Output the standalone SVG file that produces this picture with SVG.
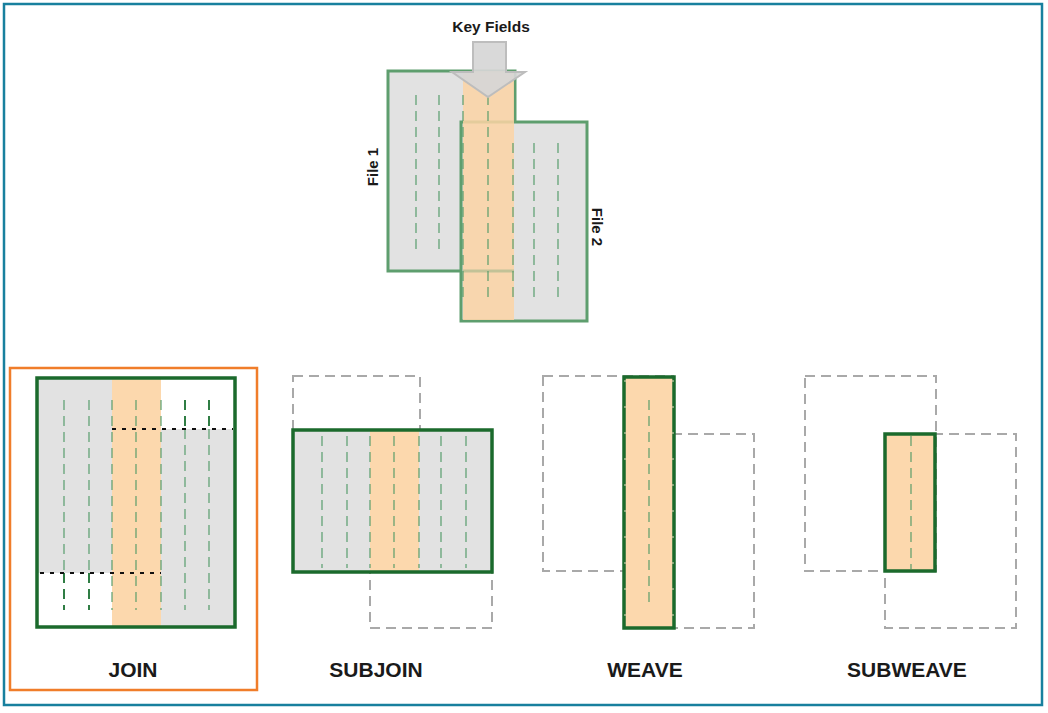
<svg xmlns="http://www.w3.org/2000/svg" width="1048" height="713" viewBox="0 0 1048 713">
<style>
.lbl{font-family:"Liberation Sans",Arial,sans-serif;font-weight:bold;fill:#1a1a1a}
.big{font-size:21px;text-anchor:middle}
.sm{font-size:15.5px;text-anchor:middle}
.f1{fill:#e2e2e2;stroke:#5e9e6e;stroke-width:3}
.res{stroke:#1b6a2c;stroke-width:3.5;fill:none}
.gray{fill:#e2e2e2}
.org{fill:#fcd8ad}
.ghost{fill:none;stroke:#a9a9a9;stroke-width:2;stroke-dasharray:10,6}
.col{stroke:#4f9a66;stroke-opacity:0.7;stroke-width:1.6;stroke-dasharray:10,6;fill:none}
.colk{stroke:#2f7d44;stroke-width:2;stroke-dasharray:10,6;fill:none}
.dot{stroke:#111;stroke-width:1.8;stroke-dasharray:4,6;fill:none}
</style>
<rect x="4" y="4" width="1038" height="701" fill="#fff" stroke="#18809e" stroke-width="2.5"/>

<g id="files">
  <rect class="f1" x="388" y="71" width="127" height="200"/>
  <rect class="f1" x="461" y="122" width="126" height="199"/>
  <rect x="463" y="71" width="51" height="249" fill="#fcd3a4" fill-opacity="0.85"/>
  <path d="M463 271H514" stroke="#5e9e6e" stroke-opacity="0.35" stroke-width="3"/>
  <path class="col" d="M416 95V250M439 95V250M463 95V303M488 95V303M513 143V303M534 143V303M558 143V303"/>
  <text class="lbl" font-size="15" text-anchor="middle" transform="translate(378,167) rotate(-90)">File 1</text>
  <text class="lbl" font-size="15" text-anchor="middle" transform="translate(592,227) rotate(90)">File 2</text>
</g>

<g id="keyfields">
  <polygon points="473,42 506,42 506,72 525,72 488,97 452,72 473,72" fill="#d6d6d6" fill-opacity="0.92" stroke="#bdbdbd" stroke-width="2"/>
  <text class="lbl sm" x="491" y="32">Key Fields</text>
</g>

<g id="join">
  <rect x="10" y="368" width="247" height="322" fill="none" stroke="#f07d2a" stroke-width="2.5"/>
  <rect class="gray" x="37" y="378" width="75" height="195"/>
  <rect class="org" x="112" y="378" width="49" height="249"/>
  <rect class="gray" x="161" y="429" width="74" height="198"/>
  <path class="col" d="M64 400V573M89 400V573M112 400V610M136 400V610M161 400V610M185 429V610M209 429V610"/>
  <path class="colk" d="M64 573V610M89 573V610M185 400V429M209 400V429"/>
  <path class="dot" d="M40 573H161M112 429H233"/>
  <rect class="res" x="37" y="378" width="198" height="249" stroke-width="4"/>
  <text class="lbl big" x="133" y="677">JOIN</text>
</g>

<g id="subjoin">
  <rect class="ghost" x="293" y="376" width="127" height="196"/>
  <rect class="ghost" x="370" y="430" width="122" height="198"/>
  <rect class="gray" x="293" y="430" width="199" height="142"/>
  <rect class="org" x="370" y="430" width="49" height="142"/>
  <path class="col" d="M322 436V568M347 436V568M370 436V568M394 436V568M419 436V568M441 436V568M466 436V568"/>
  <rect class="res" x="293" y="430" width="199" height="142"/>
  <text class="lbl big" x="376" y="677">SUBJOIN</text>
</g>

<g id="weave">
  <rect class="ghost" x="543" y="376" width="130" height="195"/>
  <rect class="ghost" x="624" y="434" width="130" height="194"/>
  <rect class="org" x="624" y="377" width="50" height="251"/>
  <path class="col" d="M649 400V608"/>
  <rect class="res" x="624" y="377" width="50" height="251"/>
  <path d="M625 380V625M673 380V625" stroke="#e8dcc0" stroke-width="1" stroke-dasharray="2,24" fill="none"/>
  <text class="lbl big" x="645" y="677">WEAVE</text>
</g>

<g id="subweave">
  <rect class="ghost" x="805" y="376" width="131" height="195"/>
  <rect class="ghost" x="885" y="434" width="131" height="194"/>
  <rect class="org" x="885" y="434" width="50" height="137"/>
  <path class="col" d="M911 436V569"/>
  <rect class="res" x="885" y="434" width="50" height="137"/>
  <text class="lbl big" x="907" y="677">SUBWEAVE</text>
</g>
</svg>
